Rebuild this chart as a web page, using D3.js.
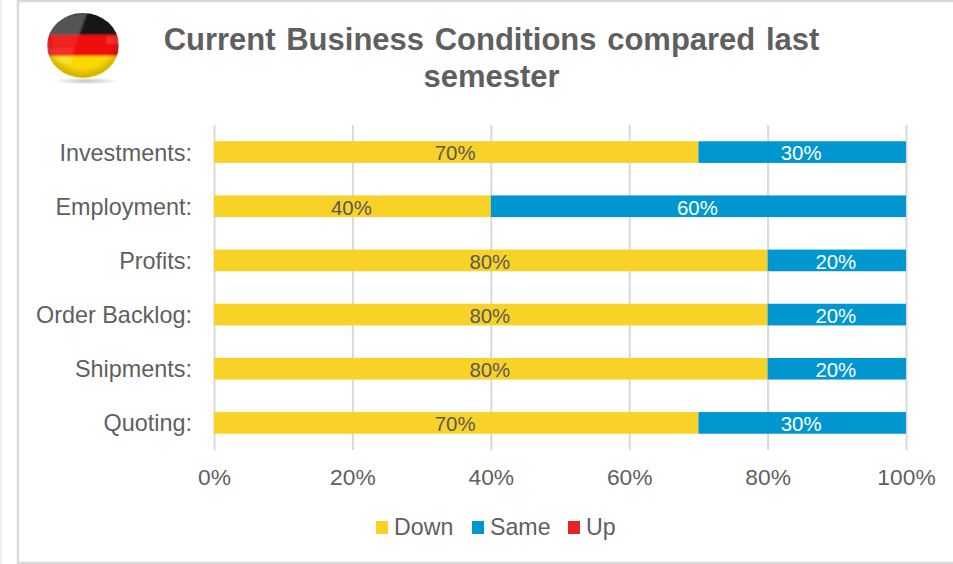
<!DOCTYPE html>
<html>
<head>
<meta charset="utf-8">
<script src="https://d3js.org/d3.v7.min.js"></script>
<style>
  html, body { margin: 0; padding: 0; background: #fff; }
  text { font-family: "Liberation Sans", Arial, sans-serif; }
</style>
</head>
<body>
<svg id="chart"></svg>
<script>
const categories = ["Investments:", "Employment:", "Profits:", "Order Backlog:", "Shipments:", "Quoting:"];
const seriesNames = ["Down", "Same", "Up"];
const down = [70, 40, 80, 80, 80, 70];
const same = [30, 60, 20, 20, 20, 30];
const up = [0, 0, 0, 0, 0, 0];
const tickValues = [0, 20, 40, 60, 80, 100];
const titleLines = ["Current Business Conditions compared last", "semester"];

const width = 953, height = 564;
const margin = { top: 125, right: 47, bottom: 114, left: 214 };
const innerWidth = width - margin.left - margin.right;
const innerHeight = height - margin.top - margin.bottom;
const colors = { Down: "#f9d228", Same: "#0097d1", Up: "#e42527" };
const gray = "#5f5f5f";

const svg = d3.select("#chart").attr("width", width).attr("height", height)
    .style("display", "block");

// card border
svg.append("rect").attr("x", 0).attr("y", 0).attr("width", 1.5).attr("height", height).attr("fill", "#ececec");
svg.append("path")
    .attr("d", `M${width},1 H18 V${height - 1} H${width}`)
    .attr("fill", "none").attr("stroke", "#d9d9d9").attr("stroke-width", 2.5);

// flag badge
const defs = svg.append("defs");
defs.append("clipPath").attr("id", "ball").append("ellipse")
    .attr("cx", 83).attr("cy", 45.5).attr("rx", 36).attr("ry", 32.5);
const shade = defs.append("radialGradient").attr("id", "shade").attr("cx", "50%").attr("cy", "45%").attr("r", "55%");
shade.append("stop").attr("offset", "72%").attr("stop-color", "#000").attr("stop-opacity", 0);
shade.append("stop").attr("offset", "100%").attr("stop-color", "#000").attr("stop-opacity", 0.22);
const ground = defs.append("radialGradient").attr("id", "ground");
ground.append("stop").attr("offset", "0%").attr("stop-color", "#c4c4c4");
ground.append("stop").attr("offset", "100%").attr("stop-color", "#fff");
defs.append("filter").attr("id", "soft").append("feGaussianBlur").attr("stdDeviation", 0.8);

svg.append("ellipse").attr("cx", 86).attr("cy", 81).attr("rx", 33).attr("ry", 3.5).attr("fill", "url(#ground)");
const flag = svg.append("g").attr("clip-path", "url(#ball)").attr("filter", "url(#soft)");
[["#141414", 12, 23], ["#f01010", 35, 21], ["#fbd800", 56, 23]].forEach(s => {
  flag.append("rect").attr("x", 47).attr("y", s[1]).attr("width", 72).attr("height", s[2]).attr("fill", s[0]);
});
flag.append("ellipse").attr("cx", 83).attr("cy", 45.5).attr("rx", 36).attr("ry", 32.5).attr("fill", "url(#shade)");
// glossy highlights
flag.append("path").attr("d", "M47,35 L52,24 C60,17 72,14 87,13 L79,35 Z").attr("fill", "#fff").attr("opacity", 0.28);
flag.append("path").attr("d", "M47,36 H78 L76,46 H47 Z").attr("fill", "#fff").attr("opacity", 0.07);
flag.append("path").attr("d", "M47,47 H74 L73,56 H47 Z").attr("fill", "#fff").attr("opacity", 0.13);
flag.append("path").attr("d", "M107,36 H119 V44 H106 Z").attr("fill", "#fff").attr("opacity", 0.12);
flag.append("path").attr("d", "M52,57 H73 L71,64 C62,65 56,62 52,57 Z").attr("fill", "#fff").attr("opacity", 0.18);

// title
svg.append("g").selectAll("text")
    .data(titleLines)
    .join("text")
    .attr("x", 491.5)
    .attr("y", (d, i) => 50 + i * 37)
    .attr("text-anchor", "middle")
    .attr("font-size", 31)
    .attr("word-spacing", 2)
    .attr("font-weight", "bold")
    .attr("fill", gray)
    .text(d => d);

const rows = categories.map((c, i) => ({ category: c, Down: down[i], Same: same[i], Up: up[i] }));
const stacked = d3.stack().keys(seriesNames)(rows);

const xScale = d3.scaleLinear().domain([0, 100]).range([0, innerWidth]);
const yScale = d3.scaleBand().domain(categories).range([0, innerHeight]).paddingInner(0.6).paddingOuter(0.3);

const chart = svg.append("g").attr("transform", `translate(${margin.left},${margin.top})`);

// vertical gridlines + x labels
const xAxis = chart.append("g")
    .call(d3.axisBottom(xScale).tickValues(tickValues).tickFormat(d => d + "%").tickSize(innerHeight).tickPadding(0));
xAxis.select(".domain").remove();
xAxis.selectAll("line").attr("stroke", "#d9d9d9").attr("stroke-width", 2);
xAxis.selectAll("text")
    .attr("y", innerHeight + 35)
    .attr("dy", 0)
    .attr("font-size", 22.8)
    .attr("fill", gray)
    .style("font-family", '"Liberation Sans", Arial, sans-serif');

// category labels
const yAxis = chart.append("g").call(d3.axisLeft(yScale).tickSize(0).tickPadding(22));
yAxis.select(".domain").remove();
yAxis.selectAll("text")
    .attr("y", 1)
    .attr("font-size", 23.4)
    .attr("fill", gray)
    .style("font-family", '"Liberation Sans", Arial, sans-serif');

// bars
const layers = chart.selectAll(".layer").data(stacked).join("g").attr("class", "layer")
    .attr("fill", d => colors[d.key]);
layers.selectAll("rect")
    .data(d => d)
    .join("rect")
    .attr("x", d => xScale(d[0]))
    .attr("y", d => yScale(d.data.category))
    .attr("width", d => xScale(d[1]) - xScale(d[0]))
    .attr("height", yScale.bandwidth());

// value labels
layers.selectAll("text")
    .data(d => d.map(v => ({ v, key: d.key })).filter(o => o.v[1] - o.v[0] > 0))
    .join("text")
    .attr("x", d => xScale((d.v[0] + d.v[1]) / 2) - 1)
    .attr("y", d => yScale(d.v.data.category) + yScale.bandwidth() / 2 + 1)
    .attr("dy", "0.36em")
    .attr("text-anchor", "middle")
    .attr("font-size", 20.4)
    .attr("fill", d => d.key === "Down" ? "#595959" : "#ffffff")
    .text(d => (d.v[1] - d.v[0]) + "%");

// legend
const legendItems = [
  { name: seriesNames[0], box: 376, label: 394 },
  { name: seriesNames[1], box: 472, label: 490 },
  { name: seriesNames[2], box: 568, label: 586 }
];
const legend = svg.append("g");
legend.selectAll("rect").data(legendItems).join("rect")
    .attr("x", d => d.box).attr("y", 521).attr("width", 12).attr("height", 13)
    .attr("fill", d => colors[d.name]);
legend.selectAll("text").data(legendItems).join("text")
    .attr("x", d => d.label).attr("y", 535)
    .attr("font-size", 23.2).attr("fill", gray)
    .text(d => d.name);
</script>
</body>
</html>
